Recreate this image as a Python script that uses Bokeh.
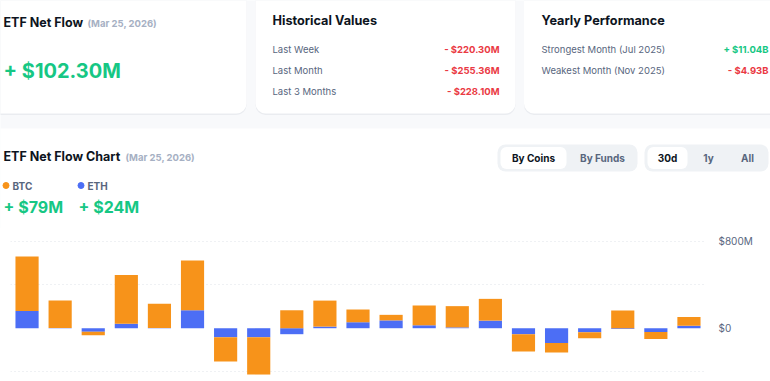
from bokeh.plotting import figure
from bokeh.layouts import column, row
from bokeh.models import Range1d, FixedTicker, BoxAnnotation, ColumnDataSource
from bokeh.core.properties import value
from bokeh.embed import file_html
from bokeh.resources import INLINE

# ---------------- data ----------------
dates = ["Feb 25", "Feb 26", "Feb 27", "Mar 2", "Mar 3", "Mar 4", "Mar 5", "Mar 6",
         "Mar 9", "Mar 10", "Mar 11", "Mar 12", "Mar 13", "Mar 16", "Mar 17", "Mar 18",
         "Mar 19", "Mar 20", "Mar 23", "Mar 24", "Mar 25"]
btc = [500, 254, -31, 448, 221, 457, -223, -343, 165, 239, 117, 51, 182, 195, 200,
       -160, -89, -55, 163, -65, 78.8]
eth = [159, 1.5, -33, 42, 3, 165, -83, -83, -55, 15, 55, 72, 27, 8, 70,
       -55, -135, -38, -8, -35, 23.5]
y_ticks = [0, 800]
y_tick_labels = ["$0", "$800M"]
grid_ticks = [-400, 400, 800]

net_flow_title = "ETF Net Flow"
net_flow_date = "(Mar 25, 2026)"
net_flow_value = "+ $102.30M"
hist_title = "Historical Values"
hist_labels = ["Last Week", "Last Month", "Last 3 Months"]
hist_values = ["- $220.30M", "- $255.36M", "- $228.10M"]
year_title = "Yearly Performance"
year_labels = ["Strongest Month (Jul 2025)", "Weakest Month (Nov 2025)"]
year_values = ["+ $11.04B", "- $4.93B"]
year_signs = [1, -1]
chart_title = "ETF Net Flow Chart"
chart_date = "(Mar 25, 2026)"
coin_names = ["BTC", "ETH"]
coin_latest = ["+ $79M", "+ $24M"]
group_buttons = ["By Coins", "By Funds"]
period_buttons = ["30d", "1y", "All"]

# ---------------- styles ----------------
FONT = value("Inter")
GREEN = "#16c784"
RED = "#ea3943"
DARK = "#0d1421"
GREY = "#58667e"
LIGHT = "#a6b0c3"
PAGE_BG = "#f8f9fb"
ORANGE = "#f7931a"
BLUE = "#4c6ef5"

W = 770
H_HDR = 228
H_CHART = 153

# ---------------- header figure ----------------
hdr = figure(width=W, height=H_HDR, x_range=Range1d(0, W), y_range=Range1d(H_HDR, 0),
             output_backend="svg", toolbar_location=None, min_border=0,
             x_axis_location=None, y_axis_location=None)
hdr.grid.visible = False
hdr.outline_line_color = None
hdr.background_fill_color = PAGE_BG
hdr.border_fill_color = PAGE_BG


def card(left, right, top, bottom, fill="white", radius=10, shadow=True):
    if shadow:
        hdr.add_layout(BoxAnnotation(left=left, right=right, top=top + 1.5, bottom=bottom + 1.5,
                                     fill_color="#e6e9ee", fill_alpha=0.8, line_color=None,
                                     border_radius=radius, level="underlay"))
    hdr.add_layout(BoxAnnotation(left=left, right=right, top=top, bottom=bottom,
                                 fill_color=fill, fill_alpha=1, line_color=None,
                                 border_radius=radius, level="underlay"))


def txt(x, y, s, size, color, style="normal", align="left"):
    hdr.text(x=[x], y=[y], text=[s], text_font=FONT, text_font_size=size,
             text_color=color, text_font_style=style, text_align=align,
             text_baseline="middle")


# cards
card(-30, 246, -20, 113)
card(255, 515, -20, 113)
card(523.5, 800, -20, 113)
# chart panel
card(-30, 800, 128, 260, radius=10, shadow=False)

# card 1
txt(3, 22, net_flow_title, "12.5px", DARK, "bold")
txt(87, 22.5, net_flow_date, "9.5px", LIGHT, "bold")
txt(3, 70, net_flow_value, "20px", GREEN, "bold")

# card 2
txt(272, 20, hist_title, "12.7px", DARK, "bold")
for i, (lab, val) in enumerate(zip(hist_labels, hist_values)):
    yy = 49 + i * 20.8
    txt(272, yy, lab, "9.5px", GREY)
    txt(499, yy, val, "9.5px", RED, "bold", "right")

# card 3
txt(541, 20, year_title, "12.7px", DARK, "bold")
for i, (lab, val, sg) in enumerate(zip(year_labels, year_values, year_signs)):
    yy = 49 + i * 20.8
    txt(541, yy, lab, "9.5px", GREY)
    txt(768, yy, val, "9.5px", GREEN if sg > 0 else RED, "bold", "right")

# chart header
txt(3, 156, chart_title, "12.5px", DARK, "bold")
txt(125, 157, chart_date, "9.5px", LIGHT, "bold")

# legend
coin_colors = [ORANGE, BLUE]
coin_x = [3, 78]
for nm, lv, cc, cx in zip(coin_names, coin_latest, coin_colors, coin_x):
    hdr.scatter(x=[cx + 2.5], y=[185], size=6, color=cc, marker="circle")
    txt(cx + 9, 185, nm, "10px", GREY, "bold")
    txt(cx, 206, lv, "16px", GREEN, "bold")

# segmented controls
card(497, 637, 144, 171, fill="#eff2f5", radius=8, shadow=False)
card(500, 566, 146.5, 168.5, fill="white", radius=6, shadow=False)
txt(533, 157.5, group_buttons[0], "10px", DARK, "bold", "center")
txt(602, 157.5, group_buttons[1], "10px", GREY, "bold", "center")

card(644, 768, 144, 171, fill="#eff2f5", radius=8, shadow=False)
card(647, 687, 146.5, 168.5, fill="white", radius=6, shadow=False)
period_x = [667, 708, 747]
for j, (lab, px) in enumerate(zip(period_buttons, period_x)):
    txt(px, 157.5, lab, "10px", DARK if j == 0 else GREY, "bold", "center")

# ---------------- chart figure ----------------
eth_bottom = [0.0] * len(eth)
eth_top = list(eth)
btc_bottom = [e if (b >= 0) == (e >= 0) else 0.0 for b, e in zip(btc, eth)]
btc_top = [bb + b for bb, b in zip(btc_bottom, btc)]

src = ColumnDataSource(dict(date=dates, eth_bottom=eth_bottom, eth_top=eth_top,
                            btc_bottom=btc_bottom, btc_top=btc_top))

p = figure(width=W, height=H_CHART, x_range=dates, y_range=Range1d(-490, 917),
           output_backend="svg", toolbar_location=None,
           x_axis_location=None, y_axis_location="right",
           min_border_left=10, min_border_right=65, min_border_top=0, min_border_bottom=0)
p.x_range.range_padding = 0
p.outline_line_color = None
p.background_fill_color = "white"
p.border_fill_color = "white"

p.vbar(x="date", bottom="eth_bottom", top="eth_top", width=0.7, source=src,
       fill_color=BLUE, line_color=None)
p.vbar(x="date", bottom="btc_bottom", top="btc_top", width=0.7, source=src,
       fill_color=ORANGE, line_color=None)

p.xgrid.visible = False
p.ygrid.ticker = FixedTicker(ticks=grid_ticks)
p.ygrid.grid_line_color = "#dfe3e8"
p.ygrid.grid_line_dash = "1 3"
p.ygrid.grid_line_width = 1

yax = p.yaxis[0]
yax.ticker = FixedTicker(ticks=y_ticks)
yax.major_label_overrides = {t: s for t, s in zip(y_ticks, y_tick_labels)}
yax.axis_line_color = None
yax.major_tick_line_color = None
yax.minor_tick_line_color = None
yax.major_tick_out = 0
yax.major_tick_in = 0
yax.major_label_text_font = "Inter"
yax.major_label_text_font_size = "10px"
yax.major_label_text_color = GREY
yax.major_label_standoff = 13

layout = column(row(hdr), row(p), spacing=0)
open("out.html", "w").write(file_html(layout, INLINE))
